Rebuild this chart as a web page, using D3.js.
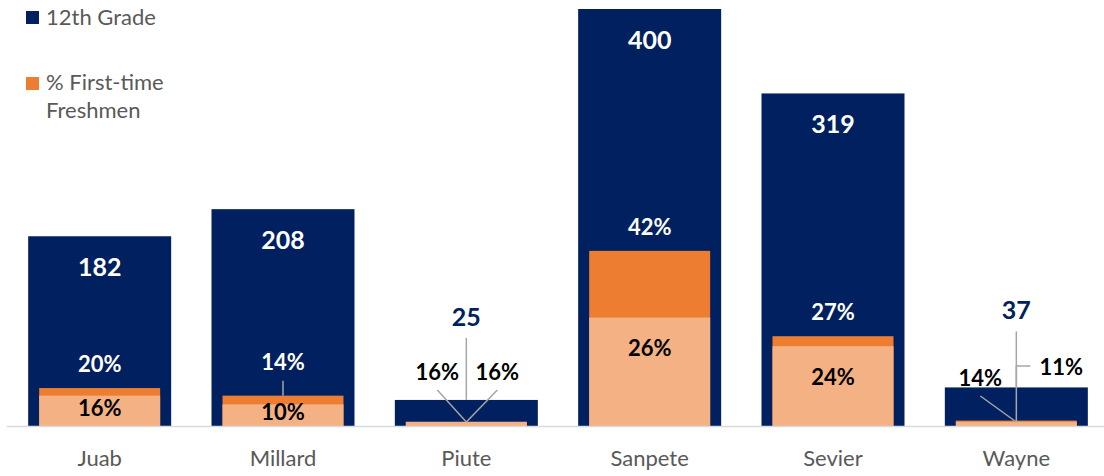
<!DOCTYPE html>
<html><head><meta charset="utf-8">
<script src="https://cdn.jsdelivr.net/npm/d3@7"></script>
<style>html,body{margin:0;padding:0;background:#fff;}svg{display:block;font-family:Lato,"Open Sans",sans-serif;}</style>
</head><body>
<svg id="c" width="1104" height="476"></svg>
<script>
const categories = ["Juab","Millard","Piute","Sanpete","Sevier","Wayne"];
const grade12 = [182, 208, 25, 400, 319, 37];
const pctFreshmen = [20, 14, 16, 42, 27, 14];
const pctInner = [16, 10, 16, 26, 24, 11];
const seriesNames = ["12th Grade", "% First-time Freshmen"];

const navy = "#002060", orange = "#ED7D31", peach = "#F4B183", gray = "#595959", leader = "#A6A6A6";
const svg = d3.select("#c");
const x = d3.scaleBand().domain(categories).range([8, 1108]).paddingInner(0.22).paddingOuter(0.11);
const y = d3.scaleLinear().domain([0, 400]).range([426, 9]);
const bw = x.bandwidth(), inset = 11;
const data = categories.map((c, i) => ({c, n: grade12[i], p: pctFreshmen[i], q: pctInner[i]}));
const FS = 22, FN = 25;

svg.selectAll(".nb").data(data).join("rect")
  .attr("x", d => x(d.c)).attr("width", bw)
  .attr("y", d => y(d.n)).attr("height", d => y(0) - y(d.n)).attr("fill", navy);
svg.selectAll(".ob").data(data).join("rect")
  .attr("x", d => x(d.c) + inset).attr("width", bw - 2 * inset)
  .attr("y", d => y(d.n * d.p / 100)).attr("height", d => y(0) - y(d.n * d.p / 100)).attr("fill", orange);
svg.selectAll(".pb").data(data).join("rect")
  .attr("x", d => x(d.c) + inset).attr("width", bw - 2 * inset)
  .attr("y", d => y(d.n * d.q / 100)).attr("height", d => y(0) - y(d.n * d.q / 100)).attr("fill", peach);

svg.append("line").attr("x1", 7).attr("x2", 1104).attr("y1", y(0) + 0.5).attr("y2", y(0) + 0.5)
  .attr("stroke", "#D9D9D9").attr("stroke-width", 1.5);
const ax = svg.append("g").attr("transform", `translate(0,${y(0)})`)
  .call(d3.axisBottom(x).tickSize(0).tickPadding(24));
ax.select(".domain").remove();
ax.selectAll("text").attr("font-size", FS).attr("fill", gray).attr("font-family", "Lato, 'Open Sans', sans-serif");

const cx = d => x(d.c) + bw / 2;
const small = d => d.n < 100;
const L = svg.append("g").attr("stroke", leader).attr("stroke-width", 1.5).attr("fill", "none");

svg.selectAll(".cl").data(data).join("text")
  .attr("x", cx).attr("y", d => small(d) ? y(d.n) - (d.c === "Piute" ? 83 : 77) : y(d.n) + 31)
  .attr("dy", "0.35em").attr("text-anchor", "middle").attr("font-weight", 700).attr("font-size", FN)
  .attr("fill", d => small(d) ? navy : "#fff").text(d => d.n);
data.filter(small).forEach(d => {
  const ly = y(d.n) - (d.c === "Piute" ? 83 : 77);
  L.append("line").attr("x1", cx(d)).attr("x2", cx(d)).attr("y1", ly + 21).attr("y2", y(d.n));
});

data.filter(d => !small(d)).forEach(d => {
  const top = y(d.n * d.p / 100);
  const ly = d.c === "Millard" ? top - 33 : top - 24;
  svg.append("text").attr("x", cx(d)).attr("y", ly).attr("dy", "0.35em").attr("text-anchor", "middle")
    .attr("font-weight", 700).attr("font-size", FS).attr("fill", "#fff").text(d.p + "%");
  if (d.c === "Millard") L.append("line").attr("x1", cx(d)).attr("x2", cx(d)).attr("y1", top - 15).attr("y2", top);
  const pt = y(d.n * d.q / 100);
  const py = Math.min(pt + 31, (pt + y(0)) / 2 - 3);
  svg.append("text").attr("x", cx(d)).attr("y", py).attr("dy", "0.35em").attr("text-anchor", "middle")
    .attr("font-weight", 700).attr("font-size", FS).attr("fill", "#000").text(d.q + "%");
});

const piute = data[2], wayne = data[5];
{
  const c = cx(piute), b = y(0) - 4;
  L.append("line").attr("x1", c - 29).attr("y1", 390).attr("x2", c).attr("y2", b);
  L.append("line").attr("x1", c + 31).attr("y1", 390).attr("x2", c).attr("y2", b);
  svg.append("text").attr("x", c - 29).attr("y", 372).attr("dy", "0.35em").attr("text-anchor", "middle")
    .attr("font-weight", 700).attr("font-size", FS).attr("fill", "#000").text(piute.p + "%");
  svg.append("text").attr("x", c + 31).attr("y", 372).attr("dy", "0.35em").attr("text-anchor", "middle")
    .attr("font-weight", 700).attr("font-size", FS).attr("fill", "#000").text(piute.q + "%");
}
{
  const c = cx(wayne), b = y(0) - 4;
  L.append("line").attr("x1", c - 36).attr("y1", 396).attr("x2", c).attr("y2", b);
  L.append("polyline").attr("points", `${c},${b} ${c},366 ${c + 14},366`);
  svg.append("text").attr("x", c - 36).attr("y", 378).attr("dy", "0.35em").attr("text-anchor", "middle")
    .attr("font-weight", 700).attr("font-size", FS).attr("fill", "#000").text(wayne.p + "%");
  svg.append("text").attr("x", c + 45).attr("y", 367).attr("dy", "0.35em").attr("text-anchor", "middle")
    .attr("font-weight", 700).attr("font-size", FS).attr("fill", "#000").text(wayne.q + "%");
}

const lg = svg.append("g");
lg.append("rect").attr("x", 26).attr("y", 11).attr("width", 13).attr("height", 13).attr("fill", navy);
lg.append("text").attr("x", 46).attr("y", 17).attr("dy", "0.35em").attr("font-size", FS).attr("fill", gray).text(seriesNames[0]);
lg.append("rect").attr("x", 26).attr("y", 77).attr("width", 13).attr("height", 13).attr("fill", orange);
const t2 = lg.append("text").attr("x", 46).attr("y", 82).attr("dy", "0.35em").attr("font-size", FS).attr("fill", gray);
t2.append("tspan").attr("x", 46).text("% First-time");
t2.append("tspan").attr("x", 46).attr("dy", 28).text("Freshmen");
</script>
</body></html>
